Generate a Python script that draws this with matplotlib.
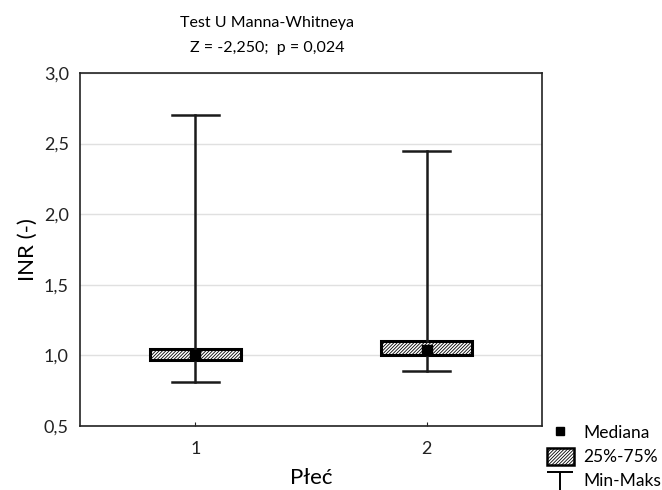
import matplotlib
matplotlib.use("Agg")
import matplotlib.pyplot as plt
from matplotlib.lines import Line2D
from matplotlib.patches import Patch
from matplotlib.path import Path

plt.rcParams['font.family'] = ['Lato', 'DejaVu Sans']
plt.rcParams['hatch.color'] = '#a8a8a8'
plt.rcParams['hatch.linewidth'] = 0.6

groups = ['1', '2']
mins = [0.81, 0.89]
q1 = [0.965, 1.005]
medians = [1.00, 1.035]
q3 = [1.045, 1.105]
maxs = [2.70, 2.445]

fig = plt.figure(figsize=(6.62, 4.9), dpi=100)
ax = fig.add_axes([0.1208, 0.1306, 0.698, 0.7204])

stats = []
for g, lo, a, m, b, hi in zip(groups, mins, q1, medians, q3, maxs):
    stats.append({'label': g, 'whislo': lo, 'q1': a, 'med': m, 'q3': b, 'whishi': hi})

pos = [1, 2]
bp = ax.bxp(stats, positions=pos, widths=0.39, capwidths=0.2, showfliers=False,
            patch_artist=True,
            boxprops=dict(facecolor='white', edgecolor='black', linewidth=2.2,
                          hatch='//////////'),
            whiskerprops=dict(color='#1a1a1a', linewidth=1.8),
            capprops=dict(color='#1a1a1a', linewidth=1.8),
            medianprops=dict(linewidth=0))
for b in bp['boxes']:
    b.set_zorder(2)
ax.plot(pos, medians, 's', color='black', markersize=7, zorder=3, linestyle='none')

ax.set_xlim(0.5, 2.5)
ax.set_ylim(0.5, 3.0)
ax.set_yticks([0.5, 1.0, 1.5, 2.0, 2.5, 3.0])
ax.set_yticklabels(['0,5', '1,0', '1,5', '2,0', '2,5', '3,0'])
ax.set_xticks(pos)
ax.set_xticklabels(groups)
ax.tick_params(axis='y', length=0, labelsize=13, pad=8, colors='#222222')
ax.tick_params(axis='x', direction='in', length=3, labelsize=13, pad=11, colors='#222222')
ax.grid(axis='y', color='#e0e0e0', linewidth=1)
ax.set_axisbelow(True)
for s in ax.spines.values():
    s.set_linewidth(1.2)
    s.set_color('#222222')

ax.set_ylabel('INR (-)', fontsize=16, labelpad=4)
ax.set_xlabel('Płeć', fontsize=16, labelpad=8)
fig.text(267 / 662, 1 - 23 / 490, 'Test U Manna-Whitneya', ha='center', va='center', fontsize=11.5)
fig.text(267 / 662, 1 - 48 / 490, 'Z = -2,250;  p = 0,024', ha='center', va='center', fontsize=11.5)

# T-shaped handle: bar slightly above the row centre, stem running down
tee = Path([(-1, 0.55), (1, 0.55), (0, 0.55), (0, -1.45)],
           [Path.MOVETO, Path.LINETO, Path.MOVETO, Path.LINETO])
handles = [
    Line2D([], [], marker='s', color='black', linestyle='none', markersize=6),
    Patch(facecolor='white', edgecolor='black', linewidth=1.8, hatch='//////////'),
    Line2D([], [], marker=tee, color='black', linestyle='none', markersize=27,
           markerfacecolor='none', markeredgewidth=1.4),
]
fig.legend(handles, ['Mediana', '25%-75%', 'Min-Maks'], loc='upper left',
           bbox_to_anchor=(547 / 662, 1 - 424 / 490), frameon=False, fontsize=12.5,
           borderpad=0, borderaxespad=0, handlelength=1.55, handleheight=1.1,
           handletextpad=0.55, labelspacing=0.38)

fig.savefig('out.png', dpi=100)
